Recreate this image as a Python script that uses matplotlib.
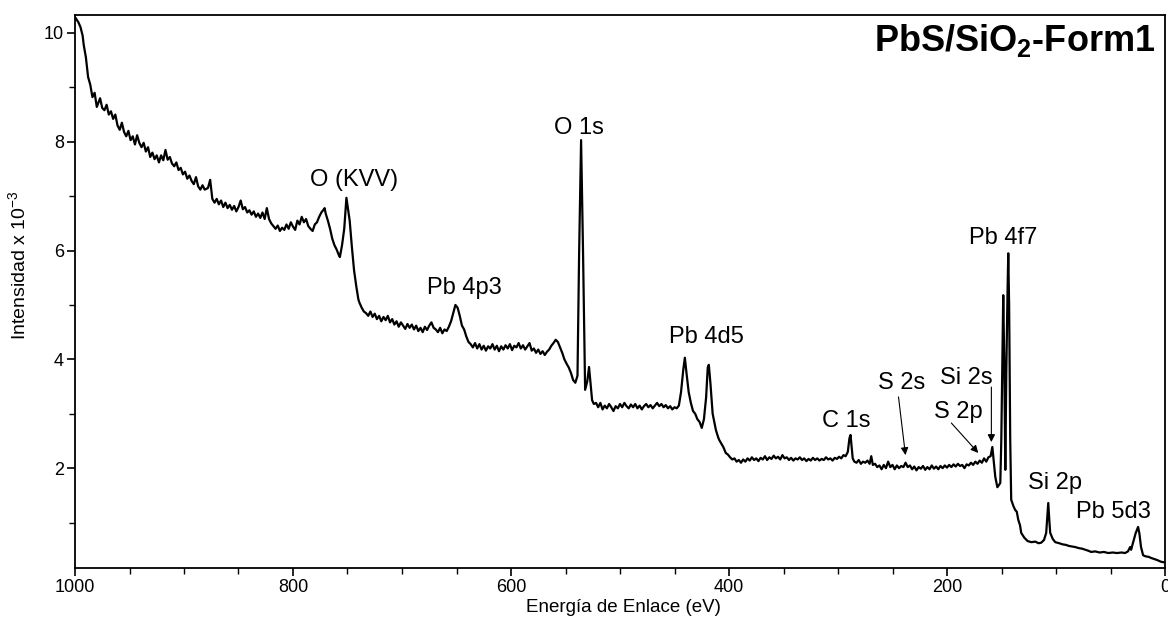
import numpy as np
import matplotlib
matplotlib.use("Agg")
import matplotlib.pyplot as plt

plt.rcParams['font.family'] = ['Liberation Sans', 'DejaVu Sans']
plt.rcParams['mathtext.fontset'] = 'custom'
plt.rcParams['mathtext.rm'] = 'Liberation Sans'
plt.rcParams['mathtext.it'] = 'Liberation Sans:italic'
plt.rcParams['mathtext.bf'] = 'Liberation Sans:bold'

# binding energy (eV) and intensity (x 10^-3)
energy_ev = [
    1000, 997, 995, 993, 992, 990, 988, 986, 984, 982,
    980, 978, 977, 975, 973, 971, 969, 967, 965, 963,
    961, 959, 957, 955, 953, 951, 949, 947, 945, 943,
    941, 939, 937, 935, 933, 931, 929, 927, 925, 923,
    921, 919, 917, 915, 913, 911, 909, 907, 905, 903,
    901, 899, 897, 895, 893, 891, 889, 887, 885, 883,
    881, 878, 876, 874, 872, 870, 868, 866, 864, 862,
    860, 858, 856, 854, 852, 850, 848, 846, 844, 842,
    840, 838, 836, 834, 832, 830, 828, 826, 824, 822,
    820, 818, 816, 814, 812, 810, 808, 806, 804, 802,
    800, 798, 796, 794, 792, 790, 788, 786, 784, 782,
    780, 778, 776, 774, 772, 771, 770, 768, 766, 764,
    762, 760, 758, 757, 755, 753, 751, 748, 746, 744,
    742, 740, 739, 737, 735, 733, 731, 729, 727, 725,
    723, 721, 719, 717, 715, 713, 711, 709, 707, 705,
    703, 701, 699, 697, 695, 693, 691, 689, 687, 685,
    683, 681, 679, 677, 675, 673, 671, 669, 667, 665,
    663, 661, 659, 657, 655, 653, 651, 649, 647, 645,
    643, 641, 639, 637, 635, 633, 631, 629, 627, 625,
    623, 621, 619, 617, 615, 613, 611, 609, 607, 605,
    603, 601, 599, 597, 595, 593, 591, 589, 587, 585,
    583, 581, 579, 577, 575, 573, 571, 569, 567, 565,
    563, 561, 559, 557, 555, 553, 551, 549, 547, 545,
    543, 541, 539, 537.5, 535.7, 533.9, 532, 530, 528.4, 527,
    525.6, 524, 522, 520, 518, 516, 514, 512, 510, 508,
    506, 504, 502, 500, 498, 496, 494, 492, 490, 488,
    486, 484, 482, 480, 478, 476, 474, 472, 470, 468,
    466, 464, 462, 460, 458, 456, 454, 452, 450, 448,
    446, 444, 442, 440.5, 439, 437, 435, 433, 431, 429,
    427, 425, 423, 421, 419.5, 418.5, 417, 415, 413.9, 412,
    410, 409, 407, 405, 403, 401, 399, 397, 395, 393,
    391, 389, 387, 385, 383, 381, 379, 377, 375, 373,
    371, 369, 367, 365, 363, 361, 359, 357, 355, 353,
    351, 349, 347, 345, 343, 341, 339, 337, 335, 333,
    331, 329, 327, 325, 323, 321, 319, 317, 315, 313,
    311, 309, 307, 305, 303, 301, 299, 297, 295, 293,
    291, 289.5, 288.5, 287.5, 286.5, 285, 283, 281, 279, 277,
    275, 273, 271, 269.5, 268, 266, 264, 262, 260, 258,
    256, 254, 252, 250, 248, 246, 244, 242, 240, 238,
    236, 234, 232, 230, 228, 226, 224, 222, 220, 218,
    216, 214, 212, 210, 208, 206, 204, 202, 200, 198,
    196, 194, 192, 190, 188, 186, 184, 182, 180, 178,
    176, 174, 172, 170, 168, 166, 164, 162, 160, 158.4,
    157, 155.7, 153.8, 152, 151.1, 150.2, 149, 148.4, 147.5, 146.5,
    145.6, 144.5, 143.8, 143, 142, 141.1, 139, 137.4, 136, 134.6,
    133, 131.9, 129, 126, 122.7, 119, 116, 113.6, 111, 109,
    108, 107.1, 106, 105.3, 103, 100.7, 97, 94, 91, 88,
    85, 82.4, 79, 76, 73, 70, 67.8, 64, 60, 56,
    52, 48, 44, 40, 36.6, 34, 32, 31.1, 29, 27,
    25.5, 24.7, 23.5, 22, 20.1, 18, 15, 12.8, 10, 7,
    3.7, 1,
]
intensity = [
    10.29, 10.20, 10.11, 9.95, 9.78, 9.55, 9.19, 9.05, 8.82, 8.90,
    8.64, 8.75, 8.80, 8.62, 8.58, 8.68, 8.50, 8.56, 8.42, 8.50,
    8.30, 8.22, 8.35, 8.18, 8.10, 8.20, 8.03, 8.10, 7.95, 8.12,
    7.98, 7.90, 7.98, 7.82, 7.90, 7.72, 7.80, 7.68, 7.75, 7.62,
    7.75, 7.66, 7.85, 7.67, 7.72, 7.60, 7.55, 7.62, 7.48, 7.52,
    7.40, 7.45, 7.32, 7.38, 7.28, 7.22, 7.35, 7.18, 7.12, 7.20,
    7.12, 7.15, 7.30, 6.95, 6.88, 6.95, 6.85, 6.92, 6.80, 6.88,
    6.78, 6.84, 6.75, 6.82, 6.72, 6.80, 6.92, 6.76, 6.80, 6.70,
    6.74, 6.66, 6.72, 6.62, 6.68, 6.60, 6.70, 6.58, 6.78, 6.58,
    6.50, 6.45, 6.40, 6.46, 6.36, 6.42, 6.38, 6.48, 6.40, 6.52,
    6.44, 6.38, 6.55, 6.48, 6.62, 6.52, 6.58, 6.45, 6.40, 6.36,
    6.48, 6.52, 6.62, 6.70, 6.75, 6.78, 6.68, 6.55, 6.40, 6.22,
    6.10, 6.02, 5.92, 5.88, 6.10, 6.40, 6.97, 6.55, 6.07, 5.64,
    5.35, 5.10, 5.04, 4.95, 4.88, 4.85, 4.80, 4.88, 4.78, 4.84,
    4.74, 4.80, 4.70, 4.78, 4.72, 4.80, 4.68, 4.74, 4.64, 4.70,
    4.60, 4.68, 4.62, 4.56, 4.65, 4.58, 4.64, 4.55, 4.62, 4.52,
    4.58, 4.50, 4.60, 4.54, 4.62, 4.68, 4.58, 4.55, 4.50, 4.58,
    4.48, 4.55, 4.52, 4.60, 4.70, 4.85, 5.00, 4.95, 4.80, 4.62,
    4.55, 4.42, 4.32, 4.28, 4.22, 4.30, 4.20, 4.28, 4.18, 4.25,
    4.16, 4.24, 4.20, 4.28, 4.18, 4.25, 4.15, 4.24, 4.18, 4.26,
    4.20, 4.28, 4.17, 4.25, 4.22, 4.30, 4.20, 4.26, 4.18, 4.24,
    4.30, 4.16, 4.20, 4.12, 4.18, 4.10, 4.15, 4.08, 4.14, 4.18,
    4.25, 4.30, 4.36, 4.32, 4.22, 4.12, 4.00, 3.92, 3.85, 3.75,
    3.62, 3.57, 3.70, 5.96, 8.03, 5.96, 3.44, 3.60, 3.86, 3.55,
    3.25, 3.18, 3.20, 3.12, 3.20, 3.08, 3.15, 3.10, 3.18, 3.12,
    3.05, 3.14, 3.10, 3.18, 3.12, 3.20, 3.14, 3.10, 3.17, 3.12,
    3.18, 3.10, 3.15, 3.08, 3.14, 3.18, 3.12, 3.16, 3.10, 3.15,
    3.20, 3.14, 3.18, 3.12, 3.16, 3.10, 3.14, 3.08, 3.12, 3.10,
    3.15, 3.40, 3.80, 4.03, 3.75, 3.40, 3.20, 3.05, 3.00, 2.90,
    2.85, 2.74, 2.90, 3.30, 3.85, 3.90, 3.55, 3.00, 2.89, 2.70,
    2.57, 2.52, 2.45, 2.38, 2.28, 2.25, 2.20, 2.16, 2.18, 2.12,
    2.15, 2.10, 2.16, 2.12, 2.18, 2.14, 2.20, 2.15, 2.18, 2.13,
    2.19, 2.16, 2.22, 2.15, 2.20, 2.17, 2.23, 2.18, 2.21, 2.16,
    2.24, 2.18, 2.20, 2.15, 2.19, 2.14, 2.18, 2.16, 2.20, 2.15,
    2.18, 2.13, 2.17, 2.14, 2.19, 2.15, 2.18, 2.14, 2.17, 2.15,
    2.20, 2.16, 2.18, 2.14, 2.19, 2.17, 2.21, 2.18, 2.24, 2.22,
    2.30, 2.55, 2.61, 2.40, 2.18, 2.12, 2.10, 2.15, 2.08, 2.12,
    2.10, 2.14, 2.08, 2.22, 2.06, 2.08, 2.02, 2.05, 1.98, 2.06,
    2.00, 2.12, 2.02, 2.06, 1.98, 2.05, 2.00, 2.04, 2.02, 2.10,
    2.02, 2.05, 1.98, 2.03, 1.96, 2.02, 1.99, 2.04, 1.97, 2.02,
    1.98, 2.05, 1.99, 2.03, 1.98, 2.04, 2.00, 2.05, 2.01, 2.06,
    2.02, 2.07, 2.03, 2.08, 2.04, 2.06, 2.00, 2.07, 2.05, 2.10,
    2.06, 2.12, 2.08, 2.14, 2.10, 2.18, 2.12, 2.20, 2.22, 2.39,
    2.10, 1.84, 1.65, 1.70, 1.73, 2.50, 4.20, 5.18, 4.00, 1.97,
    3.75, 5.20, 5.95, 5.00, 2.52, 1.42, 1.30, 1.23, 1.20, 1.05,
    0.95, 0.81, 0.72, 0.66, 0.64, 0.65, 0.62, 0.63, 0.68, 0.81,
    1.10, 1.36, 1.00, 0.81, 0.70, 0.64, 0.62, 0.60, 0.59, 0.57,
    0.56, 0.55, 0.53, 0.52, 0.50, 0.48, 0.46, 0.47, 0.45, 0.46,
    0.44, 0.45, 0.44, 0.45, 0.44, 0.47, 0.55, 0.50, 0.65, 0.80,
    0.88, 0.92, 0.80, 0.55, 0.40, 0.38, 0.37, 0.35, 0.33, 0.31,
    0.28, 0.27,
]

# peak labels and where they sit (eV, intensity)
peak_names = ['O (KVV)', 'Pb 4p3', 'O 1s', 'Pb 4d5', 'C 1s', 'S 2s', 'S 2p',
              'Si 2s', 'Pb 4f7', 'Si 2p', 'Pb 5d3']
label_ev = [743.6, 642.9, 537.5, 420.3, 292.1, 241.8, 189.6, 182.2, 148.4, 100.7, 47.6]
label_y = [7.30, 5.31, 8.25, 4.41, 2.87, 3.57, 3.03, 3.66, 6.23, 1.73, 1.19]

# arrows: label end -> peak
arrow_from = {'S 2s': (244.5, 3.31), 'S 2p': (196.0, 2.83), 'Si 2s': (159.3, 3.49)}
arrow_to = {'S 2s': (238.1, 2.24), 'S 2p': (171.3, 2.28), 'Si 2s': (159.3, 2.48)}

fig = plt.figure(figsize=(11.68, 6.25), dpi=100)
ax = fig.add_axes([75 / 1168, 1 - 568 / 625, 1090 / 1168, 553 / 625])

ax.plot(energy_ev, intensity, color='black', lw=1.6)

ax.set_xlim(1000, 0)
ax.set_ylim(0.165, 10.33)
ax.set_xticks([1000, 800, 600, 400, 200, 0])
ax.set_xticks(np.arange(0, 1001, 50), minor=True)
ax.set_yticks([2, 4, 6, 8, 10])
ax.set_yticks([1, 3, 5, 7, 9], minor=True)
ax.tick_params(which='major', direction='out', length=6, width=1.2, labelsize=13, pad=2)
ax.tick_params(which='minor', direction='out', length=4, width=1.0)
for s in ax.spines.values():
    s.set_linewidth(1.3)

for name, x, y in zip(peak_names, label_ev, label_y):
    ax.text(x, y, name, ha='center', va='center', fontsize=17)

for name in arrow_from:
    ax.annotate('', xy=arrow_to[name], xytext=arrow_from[name],
                arrowprops=dict(arrowstyle='-|>', color='black', lw=0.8,
                                mutation_scale=11, shrinkA=0, shrinkB=0))

ax.text(0.991, 0.935, r'PbS/SiO$_\mathbf{2}$-Form1', transform=ax.transAxes,
        ha='right', va='baseline', fontsize=26, fontweight='bold')

fig.text(623 / 1168, 1 - 607 / 625, 'Energía de Enlace (eV)', ha='center', va='center', fontsize=13.5)
fig.text(18 / 1168, 1 - 265 / 625, r'Intensidad x 10$^{-3}$', ha='center', va='center',
         rotation=90, fontsize=14)

fig.savefig('out.png', dpi=100)
